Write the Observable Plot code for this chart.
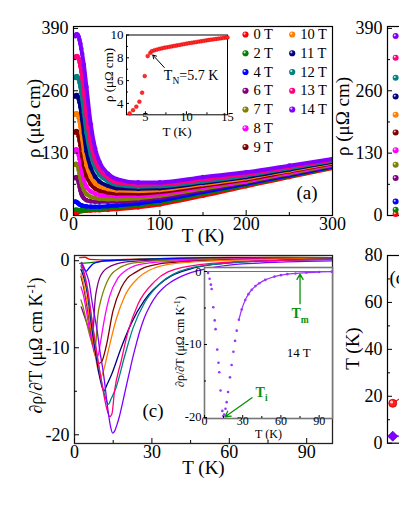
<!DOCTYPE html>
<html><head><meta charset="utf-8">
<script src="https://cdn.jsdelivr.net/npm/d3@7"></script>
<script src="https://cdn.jsdelivr.net/npm/@observablehq/plot@0.6"></script>
<style>
html,body{margin:0;padding:0;background:#fff;overflow:hidden;}
#wrap{position:relative;width:399px;height:516px;overflow:hidden;background:#fff;}
</style></head>
<body><div id="wrap"></div>
<script>
// ---------------- DATA ----------------
const fields = ["0 T","2 T","4 T","6 T","7 T","8 T","9 T","10 T","11 T","12 T","13 T","14 T"];
const fieldValues = [0,2,4,6,7,8,9,10,11,12,13,14];
const fieldColors = ["#ff0000","#008000","#0000ff","#800080","#808000","#ff00ff","#800000","#ff8000","#000080","#008080","#ff0080","#8000ff"];

// panel (a): rho(T) for each field, on a common temperature grid (K) -> rho (μΩ cm)
const rhoTemps = [2,3,4,5,6,7,8,9,10,12,15,20,25,30,40,50,75,100,150,200,250,300];
const rho0T  = [3.0,3.4,4.2,6.4,8.6,8.85,9.0,9.1,9.25,9.45,9.8,10.3,10.8,11.2,11.8,13,17,23,41,61,80,99];
const rho2T  = [12,12,11.8,11.5,11.2,11,10.8,10.7,10.6,10.6,10.8,11.5,12.5,13.5,15,17,21,27,45,63.5,82,100.5];
const rho4T  = [29,28.5,27.5,26,24.5,23,22,21,20.5,19.7,19,18.4,18.3,18.5,19.5,21,25,31,49,66,84,102];
const rho6T  = [78,80,79,75,68,60,52,46,41.5,36,32,29.5,28.7,28.5,28.5,29,32,37,53,69,86.5,104];
const rho7T  = [106,108,106.5,102,95,87,78,70,63,53,45,39,36.5,35,34,34,36,41,56,71,88,105.5];
const rho8T  = [136,138,137,133,126,117.5,108,98,89,74,60,50,45.5,43,41,40,41,45,59,73,90,107];
const rho9T  = [173,176,175.5,172,165,156,146,135,124,104,83,65,56,52,48,46,46,49,62,75,92,108.5];
const rho10T = [210,213,213,210,204,196,185,173,160,134,105,80,67,61,55,52,51,53,65,77.5,94,110];
const rho11T = [248,251,251,248,243,236,226,214,200,172,134,100,81,71,62,57,56,57,68,80,96,112];
const rho12T = [287,290,290.5,288,284,277,268,257,244,215,172,127,100,85,71,64,60,61,71,83,98.5,114];
const rho13T = [329,332,332.5,331,327,320,311,300,287,257,209,150,115,96,78,69,64,65,75,86,101,116];
const rho14T = [374,377,378,376,372,366,358,348,337,314,268,190,140,112,87,76,69,69,80,90,104,118];
const rhoSeries = [rho0T,rho2T,rho4T,rho6T,rho7T,rho8T,rho9T,rho10T,rho11T,rho12T,rho13T,rho14T];

// panel (a) inset: 0 T low-temperature rho
const insetT   = [3.08,3.5,3.9,4.27,4.6,4.92,5.28,5.6,5.8,6.1,6.4,6.7,7.0,7.3,7.6,7.9,8.2,8.5,8.8,9.1,9.4,9.7,10.0,10.3,10.6,10.9,11.2,11.5,11.8,12.1,12.4,12.7,13.0,13.3,13.6,13.9,14.2,14.5,14.8,15.0];
const insetRho = [3.12,3.41,3.71,4.15,4.94,6.4,8.15,8.44,8.59,8.66,8.72,8.78,8.83,8.88,8.92,8.96,9.0,9.04,9.08,9.12,9.16,9.2,9.24,9.28,9.31,9.35,9.38,9.42,9.45,9.49,9.52,9.56,9.59,9.62,9.65,9.68,9.71,9.74,9.77,9.79];
const TN = 5.7;

// panel (c): dρ/dT (T) pairs [T, value]
const d0T  = [[2,0.35],[4,0.4],[6,0.15],[10,0.1],[20,0.15],[40,0.3],[60,0.37],[80,0.37],[100,0.35]];
const d2T  = [[2,-0.3],[5,-0.25],[10,-0.1],[20,0.1],[40,0.28],[60,0.36],[80,0.37],[100,0.35]];
const d4T  = [[2.6,-0.3],[3.5,-0.8],[4.5,-1.2],[5.5,-0.9],[7,-0.4],[9,-0.15],[12,0],[20,0.1],[40,0.28],[60,0.36],[100,0.35]];
const d6T  = [[2.6,-5.3],[4,-6.5],[5.5,-7.8],[6.5,-8.5],[7.1,-8.7],[7.5,-6.8],[7.9,-4.8],[8.8,-3],[9.7,-2],[11,-1.3],[12.9,-0.8],[16,-0.4],[19.4,-0.15],[30,0.05],[50,0.2],[70,0.3],[100,0.32]];
const d7T  = [[2.5,-4.5],[3.5,-5.5],[5,-7.5],[6.5,-9.2],[7.5,-10],[8.2,-9.6],[9,-6.4],[10,-4.8],[11,-3.7],[12.5,-2.5],[14.2,-1.6],[17,-0.9],[20.7,-0.4],[26,-0.15],[32,0],[50,0.18],[70,0.28],[100,0.32]];
const d8T  = [[2.5,-3],[3.5,-4],[5,-6.5],[6.5,-9],[8,-10.8],[9,-11],[10,-9.5],[11.6,-6.7],[13.6,-4.1],[16.8,-2],[20,-1.1],[23.3,-0.6],[28,-0.3],[36,-0.1],[50,0.1],[70,0.25],[100,0.3]];
const d9T  = [[2.5,-1.8],[3.5,-3],[5,-5.5],[6.5,-8.3],[8,-10.8],[9.3,-11.8],[10.5,-11.6],[12.3,-9.8],[14.9,-5.8],[18.1,-3.1],[20.5,-2],[23.3,-1.4],[27,-0.8],[32.3,-0.4],[40,-0.15],[55,0.05],[75,0.2],[100,0.28]];
const d10T = [[2.5,-1.5],[3.5,-2.6],[5,-5],[6.5,-8],[8,-10.8],[9.3,-12.8],[10.3,-13.3],[11.3,-12.6],[12.9,-10.6],[16.2,-6.7],[19.4,-4.1],[24.6,-2],[29,-1.1],[33.6,-0.6],[45,-0.15],[60,0.05],[80,0.18],[100,0.25]];
const d11T = [[2.5,-1],[3.5,-1.8],[5,-3.8],[6.5,-7.2],[8,-10.3],[9.5,-13],[10.7,-14.5],[11.4,-15],[12.5,-14.3],[14.2,-13.2],[18.1,-10],[22,-7.2],[27.2,-4.5],[35,-2.2],[46.6,-0.8],[60,-0.25],[80,0.05],[100,0.2]];
const d12T = [[2.5,-0.6],[3.5,-1.4],[5,-3.4],[6.5,-6.5],[8,-9.6],[9.5,-12.3],[11,-14.6],[12.3,-16],[13.2,-16.5],[14,-16],[16.2,-14.5],[19.4,-11],[22.6,-7.8],[27.2,-4.8],[33.6,-2.5],[44,-0.9],[60,-0.25],[80,0.03],[100,0.15]];
const d13T = [[2.5,-0.3],[3.5,-1.1],[5,-3.1],[6.5,-6.2],[8,-9.3],[9.5,-12.2],[11,-14.8],[12.5,-17],[13.6,-17.9],[14.5,-17.6],[15.5,-15],[18.1,-11.5],[20.7,-8.2],[24.6,-5],[31,-2.4],[41.4,-0.8],[60,-0.15],[80,0.05],[100,0.15]];
const d14T = [[2.8,-0.2],[4,-1.0],[5,-1.8],[5.6,-2.4],[6.9,-4.9],[8,-6.7],[8.7,-7.9],[10,-10.7],[11,-12.5],[11.6,-13.8],[12.6,-16.3],[14,-19.1],[14.8,-19.8],[15.5,-19.6],[16.5,-18.8],[17.4,-17.9],[18.5,-16.5],[20,-14.5],[21.3,-12.8],[22.7,-11],[24,-9.5],[25.3,-8.1],[27,-6.6],[29.2,-5.2],[32,-3.9],[34.5,-3.1],[37.1,-2.5],[40,-2.0],[43,-1.6],[47.7,-1.15],[55,-0.7],[60,-0.5],[65,-0.36],[71.4,-0.27],[80,-0.15],[90,-0.07],[100,-0.02]];
const dSeries = [d0T,d2T,d4T,d6T,d7T,d8T,d9T,d10T,d11T,d12T,d13T,d14T];
const Ti14 = 14.8, Tm14 = 75;

// panel (d): characteristic temperatures vs field
const TmVals = [17,27,33,40,44,48,52,56,60,64,69,74];
const TiVals = [3.0,3.2,4.5,7.1,7.8,8.8,9.3,10.3,11.4,13.2,13.6,14.8];

// tick labels
const aTicksX = [0,100,200,300], aMinorX = [50,150,250];
const aTicksY = [0,130,260,390], aMinorY = [65,195,325];
const aiTicksX = [5,10,15], aiMinorX = [7.5,12.5];
const aiTicksY = [4,6,8,10], aiMinorY = [5,7,9];
const cTicksX = [0,30,60,90], cMinorX = [15,45,75];
const cTicksY = [0,-10,-20], cMinorY = [-5,-15];
const ciTicksX = [0,30,60,90], ciMinorX = [15,45,75];
const ciTicksY = [0,-10,-20], ciMinorY = [-5,-15];
const dTicksY = [0,20,40,60,80], dMinorY = [10,30,50,70];

// rotated y-axis titles (text, page-pixel centre, font size)
const yTitles = [
  {label:"ρ (μΩ cm)", px:33, py:118, size:19},
  {label:"ρ (μΩ cm)", px:108, py:74.5, size:13},
  {label:"ρ (μΩ cm)", px:342, py:116, size:19},
  {label:"∂ρ/∂T (μΩ cm K^{-1})", px:36, py:345, size:18},
  {label:"∂ρ/∂T (μΩ cm K^{-1})", px:180, py:341, size:12},
  {label:"T (K)", px:352, py:348, size:19}
];

// ---------------- DRAWING ----------------
const W = 399, H = 516;
const serif = "Liberation Serif";
const wrap = document.getElementById("wrap");
function place(svg){
  svg.style.position = "absolute"; svg.style.left = "0px"; svg.style.top = "0px";
  svg.style.background = "transparent"; svg.style.maxWidth = "none"; svg.style.overflow = "visible";
  svg.style.fontFamily = serif;
  wrap.appendChild(svg);
  return svg;
}
function frameBox(l,r,t,b,w){ return {marginLeft:l, marginRight:w-r, marginTop:t, marginBottom:H-b}; }
function inTicksX(vals, fh, len, o={}){ return Plot.tickX(vals,{x:d=>d, insetTop: fh-len, stroke:"black", strokeWidth:1, ...o}); }
function inTicksY(vals, fw, len, o={}){ return Plot.tickY(vals,{y:d=>d, insetRight: fw-len, stroke:"black", strokeWidth:1, ...o}); }

// ---- Panel (a) ----
{
  const L=73,R=332,T=26,B=215, fw=R-L, fh=B-T;
  const marks = [];
  rhoSeries.forEach((s,i)=>{
    const rows = rhoTemps.map((t,j)=>({T:t, rho:s[j]}));
    marks.push(Plot.line(rows,{x:"T",y:"rho",stroke:fieldColors[i],strokeWidth:4,curve:"monotone-x",clip:true}));
    marks.push(Plot.dot(rows,{x:"T",y:"rho",r:2.3,fill:fieldColors[i],clip:true}));
  });
  marks.push(Plot.frame({stroke:"black",strokeWidth:1.2}));
  marks.push(inTicksX(aTicksX,fh,5), inTicksX(aMinorX,fh,3), inTicksY(aTicksY,fw,5), inTicksY(aMinorY,fw,3));
  marks.push(Plot.text(aTicksY,{y:d=>d,text:d=>String(d),frameAnchor:"left",dx:-5,textAnchor:"end",fontSize:18}));
  marks.push(Plot.text(aTicksX,{x:d=>d,text:d=>String(d),frameAnchor:"bottom",dy:14,fontSize:18}));
  marks.push(Plot.text(["T (K)"],{frameAnchor:"bottom",dy:26,fontSize:19}));
  marks.push(Plot.text(["(a)"],{frameAnchor:"bottom-right",dx:-15,dy:-17,fontSize:19}));
  place(Plot.plot({width:W,height:H,...frameBox(L,R,T,B,W),
    x:{domain:[0,300],axis:null}, y:{domain:[0,394],axis:null}, marks}));
}
// ---- Panel (a) inset ----
{
  const L=126,R=227,T=34.5,B=114.3, fw=R-L, fh=B-T;
  const rows = insetT.map((t,j)=>({T:t, rho:insetRho[j]}));
  place(Plot.plot({width:W,height:H,...frameBox(L,R,T,B,W),
    x:{domain:[2.7,15],axis:null}, y:{domain:[3,10],axis:null},
    marks:[
      Plot.frame({fill:"white",stroke:"black",strokeWidth:1}),
      Plot.dot(rows,{x:"T",y:"rho",r:1.9,fill:"#ff2a2a",stroke:"#e00000",strokeWidth:0.5}),
      inTicksX(aiTicksX,fh,3), inTicksX(aiMinorX,fh,2), inTicksY(aiTicksY,fw,3), inTicksY(aiMinorY,fw,2),
      Plot.text(aiTicksY,{y:d=>d,text:d=>String(d),frameAnchor:"left",dx:-3,textAnchor:"end",fontSize:13}),
      Plot.text(aiTicksX,{x:d=>d,text:d=>String(d),frameAnchor:"bottom",dy:6,fontSize:12.5}),
      Plot.text(["T (K)"],{frameAnchor:"bottom",dy:21,fontSize:13}),
      Plot.arrow([TN],{x1:d=>d+1.6,y1:7.15,x2:d=>d+0.2,y2:8.25,stroke:"black",strokeWidth:1,headLength:6}),
      Plot.text([TN],{x:d=>d+1.55,y:6.45,text:d=>`T_{N}=${d} K`,textAnchor:"start",fontSize:14})
    ]}));
}
// ---- Legend ----
{
  const leg = fields.map((f,i)=>({f, color:fieldColors[i], col:i<7?0:1, row:i<7?i:i-7}));
  place(Plot.plot({width:W,height:H,
    x:{domain:[0,1],range:[245,291.7],axis:null}, y:{domain:[0,6],range:[34,146.5],axis:null},
    color:{type:"identity"},
    marks:[
      Plot.dot(leg,{x:"col",y:"row",r:3.1,fill:"color"}),
      Plot.dot(leg,{x:"col",y:"row",r:1.1,fill:"white",fillOpacity:0.8,dx:-0.9,dy:-0.9}),
      Plot.text(leg,{x:"col",y:"row",text:"f",dx:8,textAnchor:"start",fontSize:14.5})
    ]}));
}
// ---- Panel (b) (partially visible) ----
{
  const Wb=700, L=387,R=646,T=26,B=215, fw=R-L, fh=B-T;
  const pts = rhoSeries.map((s,i)=>({T:rhoTemps[0], rho:s[0], color:fieldColors[i]}));
  place(Plot.plot({width:Wb,height:H,...frameBox(L,R,T,B,Wb),
    x:{type:"log",domain:[1.7,300],axis:null}, y:{domain:[0,394],axis:null},
    color:{type:"identity"},
    marks:[
      Plot.frame({stroke:"black",strokeWidth:1.2}),
      inTicksY(aTicksY,fw,5), inTicksY(aMinorY,fw,3),
      Plot.dot(pts,{x:"T",y:"rho",r:3,fill:"color"}),
      Plot.dot(pts,{x:"T",y:"rho",r:1,fill:"white",fillOpacity:0.8,dx:-0.9,dy:-0.9}),
      Plot.text(aTicksY,{y:d=>d,text:d=>String(d),frameAnchor:"left",dx:-5,textAnchor:"end",fontSize:18})
    ]}));
}
// ---- Panel (c) ----
{
  const L=74,R=332,T=255,B=443, fw=R-L, fh=B-T;
  const marks = [];
  dSeries.forEach((s,i)=>{
    marks.push(Plot.line(s,{x:d=>d[0],y:d=>d[1],stroke:fieldColors[i],strokeWidth:1.3,curve:"monotone-x",clip:true}));
  });
  marks.push(Plot.frame({stroke:"#222",strokeWidth:1.3}));
  marks.push(inTicksX(cTicksX,fh,5), inTicksX(cMinorX,fh,3), inTicksY(cTicksY,fw,5), inTicksY(cMinorY,fw,3));
  marks.push(Plot.text(cTicksY,{y:d=>d,text:d=>String(d),frameAnchor:"left",dx:-5,textAnchor:"end",fontSize:18}));
  marks.push(Plot.text(cTicksX,{x:d=>d,text:d=>String(d),frameAnchor:"bottom",dy:14.5,fontSize:18}));
  marks.push(Plot.text(["T (K)"],{frameAnchor:"bottom",dy:30,fontSize:19}));
  marks.push(Plot.text(["(c)"],{frameAnchor:"bottom-left",dx:68,dy:-27,fontSize:19}));
  place(Plot.plot({width:W,height:H,...frameBox(L,R,T,B,W),
    x:{domain:[0,100],axis:null}, y:{domain:[-21,0.6],axis:null}, marks}));
}
// ---- Panel (c) inset ----
{
  const L=204,R=332,T=267,B=418, fw=R-L, fh=B-T;
  const green = "#0a900a";
  place(Plot.plot({width:W,height:H,...frameBox(L,R,T,B,W),
    x:{domain:[0,100.5],axis:null}, y:{domain:[-20.14,0.55],axis:null},
    marks:[
      Plot.frame({fill:"white",stroke:"#777",strokeWidth:1.6}),
      Plot.ruleY([0],{stroke:"#ff3050",strokeWidth:1.2}),
      Plot.line(d14T.filter(d=>d[0]>=27),{x:d=>d[0],y:d=>d[1],stroke:"#9933ff",strokeWidth:1.2,curve:"monotone-x"}),
      Plot.dot(d14T,{x:d=>d[0],y:d=>d[1],r:1.3,fill:"#9933ff"}),
      inTicksX(ciTicksX,fh,3), inTicksX(ciMinorX,fh,2), inTicksY(ciTicksY,fw,3), inTicksY(ciMinorY,fw,2),
      Plot.text(ciTicksY,{y:d=>d,text:d=>String(d),frameAnchor:"left",dx:-3,textAnchor:"end",fontSize:12.5}),
      Plot.text(ciTicksX,{x:d=>d,text:d=>String(d),frameAnchor:"bottom",dy:6,fontSize:12}),
      Plot.text(["T (K)"],{frameAnchor:"bottom",dy:19.5,fontSize:12}),
      Plot.text(["14 T"],{x:74,y:-11.1,fontSize:13}),
      Plot.arrow([Tm14],{x1:d=>d,y1:-4.4,x2:d=>d,y2:-0.35,stroke:green,strokeWidth:1.3,headLength:7}),
      Plot.text([Tm14],{x:d=>d,y:-5.8,text:()=>"T_{m}",fill:green,fontWeight:"bold",fontSize:14}),
      Plot.arrow([Ti14],{x1:d=>d+22.5,y1:-17.3,x2:d=>d+1.4,y2:-19.9,stroke:green,strokeWidth:1.3,headLength:7}),
      Plot.text([Ti14],{x:d=>d+30,y:-16.6,text:()=>"T_{i}",fill:green,fontWeight:"bold",fontSize:14})
    ]}));
}
// ---- Panel (d) (partially visible) ----
{
  const Wd=700, L=387,R=646,T=255,B=442.7, fw=R-L, fh=B-T;
  const red = fieldValues.map((h,i)=>({H:h, T:TmVals[i]}));
  const pur = fieldValues.map((h,i)=>({H:h, T:TiVals[i]}));
  place(Plot.plot({width:Wd,height:H,...frameBox(L,R,T,B,Wd),
    x:{domain:[-0.3,14.5],axis:null}, y:{domain:[0,80],axis:null},
    marks:[
      Plot.frame({stroke:"black",strokeWidth:1.2}),
      inTicksY(dTicksY,fw,5), inTicksY(dMinorY,fw,3),
      Plot.line(red,{x:"H",y:"T",stroke:"#ff0000",strokeWidth:1.2}),
      Plot.line(pur,{x:"H",y:"T",stroke:"#8000ff",strokeWidth:1.2}),
      Plot.dot(red,{x:"H",y:"T",r:4,fill:"#ff2020",stroke:"#c00000",strokeWidth:0.8}),
      Plot.dot(red,{x:"H",y:"T",r:1.5,fill:"white",fillOpacity:0.8,dx:-1.2,dy:-1.2}),
      Plot.dot(pur,{x:"H",y:"T",r:4.5,symbol:"diamond2",fill:"#8000ff",stroke:"#6000c0",strokeWidth:0.8}),
      Plot.text(dTicksY,{y:d=>d,text:d=>String(d),frameAnchor:"left",dx:-5,textAnchor:"end",fontSize:18}),
      Plot.text(["(d)"],{frameAnchor:"top-left",dx:2,dy:15,textAnchor:"start",fontSize:19})
    ]}));
}
// ---- Rotated axis titles, placed in page pixels ----
place(Plot.plot({width:W,height:H,margin:0,
  x:{domain:[0,W],range:[0,W],axis:null}, y:{domain:[0,H],range:[0,H],axis:null},
  marks:[Plot.text(yTitles,{x:"px",y:"py",text:"label",fontSize:"size",rotate:-90,textAnchor:"middle",lineAnchor:"middle"})]
}));

// ---- rich text: _{..} subscript, ^{..} superscript ----
function richify(root){
  root.querySelectorAll("text").forEach(t=>{
    const s = t.textContent;
    if(!/[_^]\{/.test(s)) return;
    const fs = parseFloat(getComputedStyle(t).fontSize) || 12;
    const parts = s.split(/([_^]\{[^}]*\})/).filter(p=>p!=="");
    while(t.firstChild) t.removeChild(t.firstChild);
    let cur = 0;
    for(const p of parts){
      const ts = document.createElementNS("http://www.w3.org/2000/svg","tspan");
      let target = 0, txt = p, small = false;
      if(p.startsWith("_{")){ txt=p.slice(2,-1); target = fs*0.3; small=true; }
      else if(p.startsWith("^{")){ txt=p.slice(2,-1); target = -fs*0.4; small=true; }
      if(target-cur !== 0) ts.setAttribute("dy", (target-cur).toFixed(2));
      cur = target;
      if(small) ts.setAttribute("font-size", (fs*0.68).toFixed(1));
      ts.textContent = txt;
      t.appendChild(ts);
    }
  });
}
richify(wrap);
</script>
</body></html>
